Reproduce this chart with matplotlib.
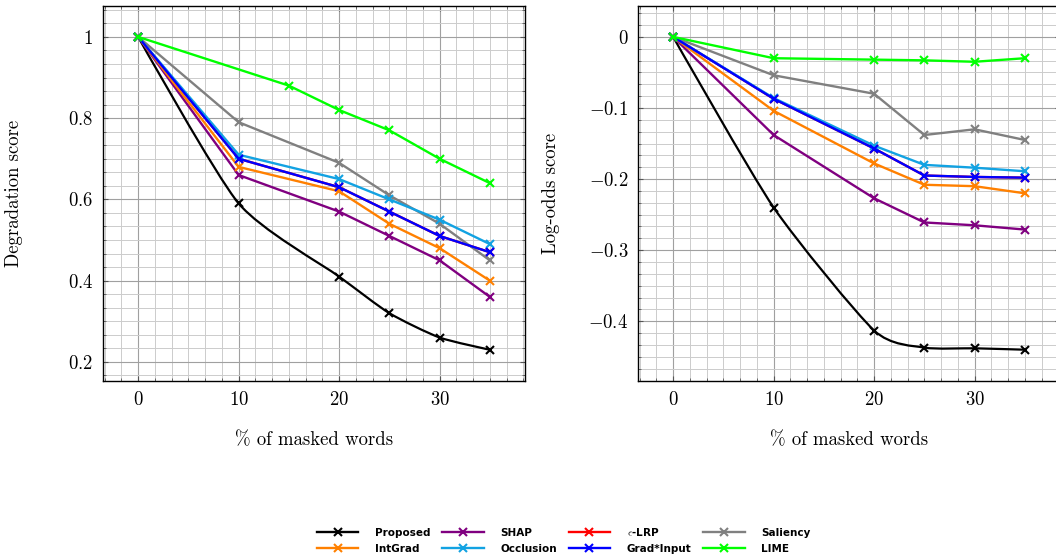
import numpy as np
import matplotlib
matplotlib.use("Agg")
import matplotlib.pyplot as plt
from matplotlib.path import Path
from matplotlib.patches import PathPatch
from matplotlib.lines import Line2D
from matplotlib.ticker import MultipleLocator, AutoMinorLocator, FuncFormatter

plt.rcParams['font.family'] = ['cmr10', 'DejaVu Serif']
plt.rcParams['mathtext.fontset'] = 'cm'
plt.rcParams['axes.unicode_minus'] = False

# x positions (% of masked words)
x_main = [0, 10, 20, 25, 30, 35]
x_lime_deg = [0, 15, 20, 25, 30, 35]

# Degradation score
deg_proposed = [1.0, 0.59, 0.41, 0.32, 0.26, 0.23]
deg_shap = [1.0, 0.66, 0.57, 0.51, 0.45, 0.36]
deg_lrp = [1.0, 0.70, 0.63, 0.57, 0.51, 0.47]
deg_saliency = [1.0, 0.79, 0.69, 0.61, 0.54, 0.45]
deg_intgrad = [1.0, 0.68, 0.62, 0.54, 0.48, 0.40]
deg_occlusion = [1.0, 0.71, 0.65, 0.60, 0.55, 0.49]
deg_gradinput = [1.0, 0.70, 0.63, 0.57, 0.51, 0.47]
deg_lime = [1.0, 0.88, 0.82, 0.77, 0.70, 0.64]

# Log-odds score
lo_proposed = [0.0, -0.240, -0.413, -0.437, -0.438, -0.440]
lo_shap = [0.0, -0.138, -0.227, -0.261, -0.265, -0.271]
lo_lrp = [0.0, -0.087, -0.157, -0.195, -0.197, -0.198]
lo_saliency = [0.0, -0.054, -0.080, -0.138, -0.130, -0.145]
lo_intgrad = [0.0, -0.104, -0.178, -0.208, -0.210, -0.220]
lo_occlusion = [0.0, -0.086, -0.153, -0.180, -0.184, -0.189]
lo_gradinput = [0.0, -0.087, -0.157, -0.195, -0.197, -0.198]
lo_lime = [0.0, -0.030, -0.032, -0.033, -0.035, -0.030]

# order follows the pgfplots legend (row by row)
names = ['Proposed', 'SHAP', r'$\epsilon$-LRP', 'Saliency',
         'IntGrad', 'Occlusion', 'Grad*Input', 'LIME']
colors = ['black', '#800080', '#ff0000', '#808080',
          '#ff8000', '#12a2e2', '#0000ff', '#00ff00']


def smooth_path(x, y, k=0.11):
    # tikz-like smooth curve as cubic bezier segments
    p = np.column_stack([x, y]).astype(float)
    n = len(p)
    verts = [p[0]]
    codes = [Path.MOVETO]
    for i in range(n - 1):
        t0 = p[i + 1] - p[i - 1] if i > 0 else np.zeros(2)
        t1 = p[i + 2] - p[i] if i + 2 < n else np.zeros(2)
        verts += [p[i] + k * t0, p[i + 1] - k * t1, p[i + 1]]
        codes += [Path.CURVE4] * 3
    return Path(verts, codes)


def draw_panel(ax, series, xs, smooth_first=True):
    for i, (xv, yv) in enumerate(zip(xs, series)):
        c = colors[i]
        if i == 0 and smooth_first:
            ax.add_patch(PathPatch(smooth_path(xv, yv), fill=False, edgecolor=c, lw=1.6, zorder=3))
            ax.plot(xv, yv, ls='none', marker='x', color=c, ms=6, mew=1.5, zorder=3)
        else:
            ax.plot(xv, yv, color=c, lw=1.7, marker='x', ms=6, mew=1.5, zorder=3)


def fmt(v, pos):
    if abs(v) < 1e-9:
        return r'$0$'
    return r'$%s$' % ('%g' % round(v, 3))


def style(ax, ymajor):
    ax.set_xlim(-3.5, 38.5)
    ax.xaxis.set_major_locator(MultipleLocator(10))
    ax.yaxis.set_major_locator(MultipleLocator(ymajor))
    ax.xaxis.set_minor_locator(AutoMinorLocator(6))
    ax.yaxis.set_minor_locator(AutoMinorLocator(6))
    ax.xaxis.set_major_formatter(FuncFormatter(fmt))
    ax.yaxis.set_major_formatter(FuncFormatter(fmt))
    ax.grid(which='major', color='#a0a0a0', lw=0.8, zorder=0)
    ax.grid(which='minor', color='#cccccc', lw=0.7, zorder=0)
    ax.set_axisbelow(True)
    ax.tick_params(which='both', direction='in', top=True, right=True, color='#555555')
    ax.tick_params(which='major', length=3.5, width=0.8, labelsize=13.5)
    ax.tick_params(axis='x', which='major', pad=7.5)
    ax.tick_params(axis='y', which='major', pad=7)
    ax.tick_params(which='minor', length=2, width=0.6)
    for s in ax.spines.values():
        s.set_linewidth(1.0)
        s.set_color('black')
    ax.set_xlabel('% of masked words', fontsize=13.5)
    ax.xaxis.set_label_coords(0.5, -0.133)


fig = plt.figure(figsize=(10.56, 5.58), dpi=100)
ax1 = fig.add_axes([103 / 1056, 177 / 558, 422 / 1056, 375.4 / 558])
ax2 = fig.add_axes([638 / 1056, 177 / 558, 422 / 1056, 375.4 / 558])

deg = [deg_proposed, deg_shap, deg_lrp, deg_saliency,
       deg_intgrad, deg_occlusion, deg_gradinput, deg_lime]
lo = [lo_proposed, lo_shap, lo_lrp, lo_saliency,
      lo_intgrad, lo_occlusion, lo_gradinput, lo_lime]

draw_panel(ax1, deg, [x_main] * 7 + [x_lime_deg])
draw_panel(ax2, lo, [x_main] * 8)

style(ax1, 0.2)
ax1.set_ylim(0.153, 1.077)
ax1.set_ylabel('Degradation score', fontsize=13.5)
ax1.yaxis.set_label_coords(-0.19, 0.5)

style(ax2, 0.1)
ax2.set_ylim(-0.484, 0.044)
ax2.set_ylabel('Log-odds score', fontsize=13.5)
ax2.yaxis.set_label_coords(-0.185, 0.5)

# legend: matplotlib fills columns first, so reorder to keep the row layout
order = [0, 4, 1, 5, 2, 6, 3, 7]
handles = [Line2D([], [], color=colors[i], lw=1.7, marker='x', ms=6, mew=1.5) for i in order]
labels = [names[i] for i in order]
fig.legend(handles, labels, ncol=4, loc='center left', bbox_to_anchor=(0.300, 0.0323),
           frameon=False, prop={'family': 'DejaVu Sans', 'weight': 'bold', 'size': 7.5},
           handlelength=4.0, handletextpad=1.6, columnspacing=1.1, labelspacing=0.6,
           borderpad=0, borderaxespad=0)

fig.savefig('out.png', dpi=100)
